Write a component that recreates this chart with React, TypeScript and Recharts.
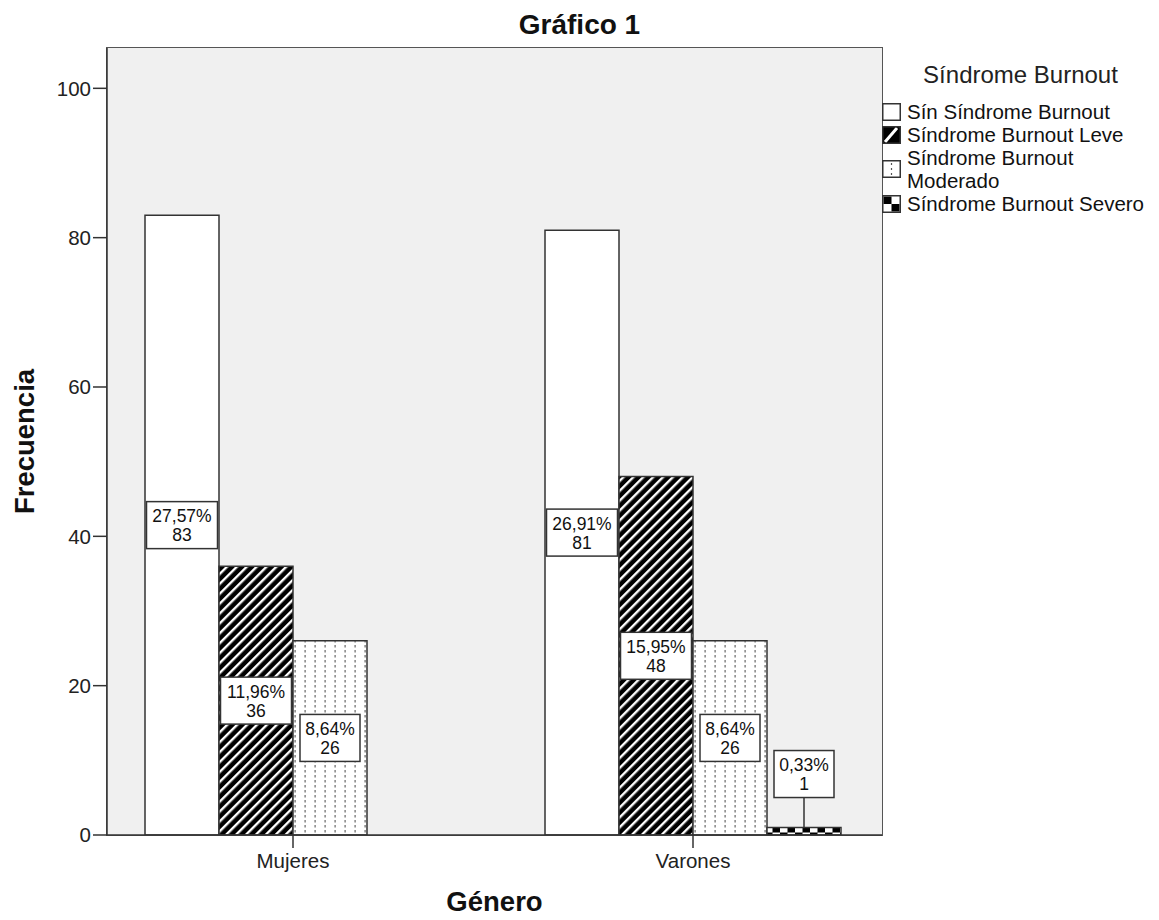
import React from 'react';
import { BarChart, Bar, XAxis, YAxis, LabelList, Label } from 'recharts';

// valores
const categories = ['Mujeres', 'Varones'];
const sinSindrome = [83, 81];
const leve = [36, 48];
const moderado = [26, 26];
const severo = [0, 1];
const pctSin = ['27,57', '26,91'];
const pctLeve = ['11,96', '15,95'];
const pctModerado = ['8,64', '8,64'];
const pctSevero = ['0,00', '0,33'];
const yTicks = [0, 20, 40, 60, 80, 100];

const seriesNames = [
  'Sín Síndrome Burnout',
  'Síndrome Burnout Leve',
  'Síndrome Burnout Moderado',
  'Síndrome Burnout Severo',
];

const lbl = (pct: string, n: number) => (n > 0 ? `${pct}%|${n}` : '');

const data = categories.map((genero, i) => ({
  genero,
  sin: sinSindrome[i],
  leve: leve[i],
  moderado: moderado[i],
  severo: severo[i],
  sinLbl: lbl(pctSin[i], sinSindrome[i]),
  leveLbl: lbl(pctLeve[i], leve[i]),
  moderadoLbl: lbl(pctModerado[i], moderado[i]),
  severoLbl: lbl(pctSevero[i], severo[i]),
}));

const FONT = '"Liberation Sans", Arial, sans-serif';
const INK = '#333';

// caja blanca con porcentaje y frecuencia, centrada en la barra
const BoxLabel = (props: any) => {
  const vb = props.viewBox || props;
  const { x, y, width, height } = vb;
  const value = props.value as string;
  if (!value) return null;
  const [pct, n] = value.split('|');
  const boxW = pct.length * 11 + 5;
  const boxH = 47;
  const cx = x + width / 2;
  let cy = y + height / 2;
  let connector = null;
  if (height < boxH + 6) {
    cy = y - 30 - boxH / 2;
    connector = <line x1={cx} y1={cy + boxH / 2} x2={cx} y2={y} stroke={INK} strokeWidth={1.5} />;
  }
  return (
    <g>
      {connector}
      <rect x={cx - boxW / 2} y={cy - boxH / 2} width={boxW} height={boxH} fill="#fff" stroke={INK} strokeWidth={1.5} />
      <text x={cx} y={cy - 3} textAnchor="middle" fontSize={17.5} fontFamily={FONT} fill="#111">{pct}</text>
      <text x={cx} y={cy + 16} textAnchor="middle" fontSize={17.5} fontFamily={FONT} fill="#111">{n}</text>
    </g>
  );
};

const Swatch = ({ kind }: { kind: number }) => (
  <svg width={19} height={18} style={{ flex: 'none' }}>
    {kind === 0 && <rect x={0.75} y={0.75} width={17.5} height={16.5} fill="#fff" stroke={INK} strokeWidth={1.5} />}
    {kind === 1 && (
      <g>
        <rect x={0} y={0} width={19} height={18} fill="#000" />
        <line x1={3} y1={16} x2={15} y2={2} stroke="#fff" strokeWidth={3} />
        <rect x={0.75} y={0.75} width={17.5} height={16.5} fill="none" stroke={INK} strokeWidth={1.5} />
      </g>
    )}
    {kind === 2 && (
      <g>
        <rect x={0.75} y={0.75} width={17.5} height={16.5} fill="#fff" stroke={INK} strokeWidth={1.5} />
        <line x1={9.5} y1={3} x2={9.5} y2={16} stroke="#555" strokeWidth={1.2} strokeDasharray="2 3" />
      </g>
    )}
    {kind === 3 && (
      <g>
        <rect x={0} y={0} width={19} height={18} fill="#fff" />
        <rect x={1.5} y={1.5} width={8} height={7.5} fill="#000" />
        <rect x={9.5} y={9} width={8} height={7.5} fill="#000" />
        <rect x={0.75} y={0.75} width={17.5} height={16.5} fill="none" stroke={INK} strokeWidth={1.5} />
      </g>
    )}
  </svg>
);

export default function App() {
  return (
    <div style={{ position: 'absolute', left: 0, top: 0, width: 1159, height: 920, background: '#fff', fontFamily: FONT }}>
      {/* patrones de relleno */}
      <svg width={0} height={0} style={{ position: 'absolute' }}>
        <defs>
          <pattern id="hatch" patternUnits="userSpaceOnUse" width={7} height={7} patternTransform="rotate(45)">
            <rect width={7} height={7} fill="#000" />
            <rect x={0} y={0} width={2.4} height={7} fill="#fff" />
          </pattern>
          <pattern id="dots" patternUnits="userSpaceOnUse" width={10} height={5}>
            <rect width={10} height={5} fill="#fff" />
            <rect x={4.5} y={0} width={1.2} height={2.5} fill="#666" />
          </pattern>
          <pattern id="checker" patternUnits="userSpaceOnUse" width={15} height={15}>
            <rect width={15} height={15} fill="#000" />
            <rect x={0} y={0} width={7.5} height={7.5} fill="#fff" />
            <rect x={7.5} y={7.5} width={7.5} height={7.5} fill="#fff" />
          </pattern>
        </defs>
      </svg>

      {/* fondo del área de trazado */}
      <div style={{ position: 'absolute', left: 106, top: 47, width: 775, height: 787, background: '#f0f0f0', border: '1.5px solid #555' }} />

      <div style={{ position: 'absolute', left: 0, right: 0, top: 11, textAlign: 'center', fontSize: 28, fontWeight: 'bold', lineHeight: '28px', color: '#111' }}>
        Gráfico 1
      </div>

      <div style={{ position: 'absolute', left: 0, top: 0 }}>
        <BarChart width={1159} height={920} data={data} margin={{ top: 48, right: 277, bottom: 0, left: 0 }} barGap={0} barSize={74}>
          <XAxis
            dataKey="genero"
            height={85}
            padding={{ left: -14, right: -11 }}
            stroke={INK}
            strokeWidth={1.5}
            tickSize={13}
            tickMargin={5}
            tick={{ fontSize: 20.5, fill: '#222', fontFamily: FONT }}
          >
            <Label
              content={(p: any) => {
                const vb = p.viewBox;
                return (
                  <text x={vb.x + vb.width / 2} y={vb.y + 76} textAnchor="middle" fontSize={27.5} fontWeight="bold" fontFamily={FONT} fill="#111">
                    Género
                  </text>
                );
              }}
            />
          </XAxis>
          <YAxis
            width={107}
            domain={[0, 105.4]}
            ticks={yTicks}
            allowDataOverflow
            stroke={INK}
            strokeWidth={1.5}
            tickSize={14}
            tickMargin={2}
            tick={{ fontSize: 20.5, fill: '#222', fontFamily: FONT }}
          >
            <Label
              content={(p: any) => {
                const vb = p.viewBox;
                const cx = vb.x + 24;
                const cy = vb.y + vb.height / 2;
                return (
                  <text x={cx} y={cy} transform={`rotate(-90, ${cx}, ${cy})`} textAnchor="middle" dominantBaseline="central" fontSize={27.5} fontWeight="bold" fontFamily={FONT} fill="#111">
                    Frecuencia
                  </text>
                );
              }}
            />
          </YAxis>
          <Bar dataKey="sin" name={seriesNames[0]} fill="#fff" stroke={INK} strokeWidth={1.5} isAnimationActive={false}>
            <LabelList dataKey="sinLbl" content={BoxLabel} />
          </Bar>
          <Bar dataKey="leve" name={seriesNames[1]} fill="url(#hatch)" stroke={INK} strokeWidth={1.5} isAnimationActive={false}>
            <LabelList dataKey="leveLbl" content={BoxLabel} />
          </Bar>
          <Bar dataKey="moderado" name={seriesNames[2]} fill="url(#dots)" stroke={INK} strokeWidth={1.5} isAnimationActive={false}>
            <LabelList dataKey="moderadoLbl" content={BoxLabel} />
          </Bar>
          <Bar dataKey="severo" name={seriesNames[3]} fill="url(#checker)" stroke={INK} strokeWidth={1.5} isAnimationActive={false}>
            <LabelList dataKey="severoLbl" content={BoxLabel} />
          </Bar>
        </BarChart>
      </div>

      {/* leyenda */}
      <div style={{ position: 'absolute', left: 882, top: 63, width: 277, color: '#111' }}>
        <div style={{ textAlign: 'center', fontSize: 24, lineHeight: '24px', marginBottom: 13, color: '#222' }}>Síndrome Burnout</div>
        {seriesNames.map((name, i) => (
          <div key={name} style={{ display: 'flex', alignItems: 'center' }}>
            <Swatch kind={i} />
            <div style={{ marginLeft: 6, width: 252, fontSize: 20.5, lineHeight: '23px' }}>{name}</div>
          </div>
        ))}
      </div>
    </div>
  );
}
